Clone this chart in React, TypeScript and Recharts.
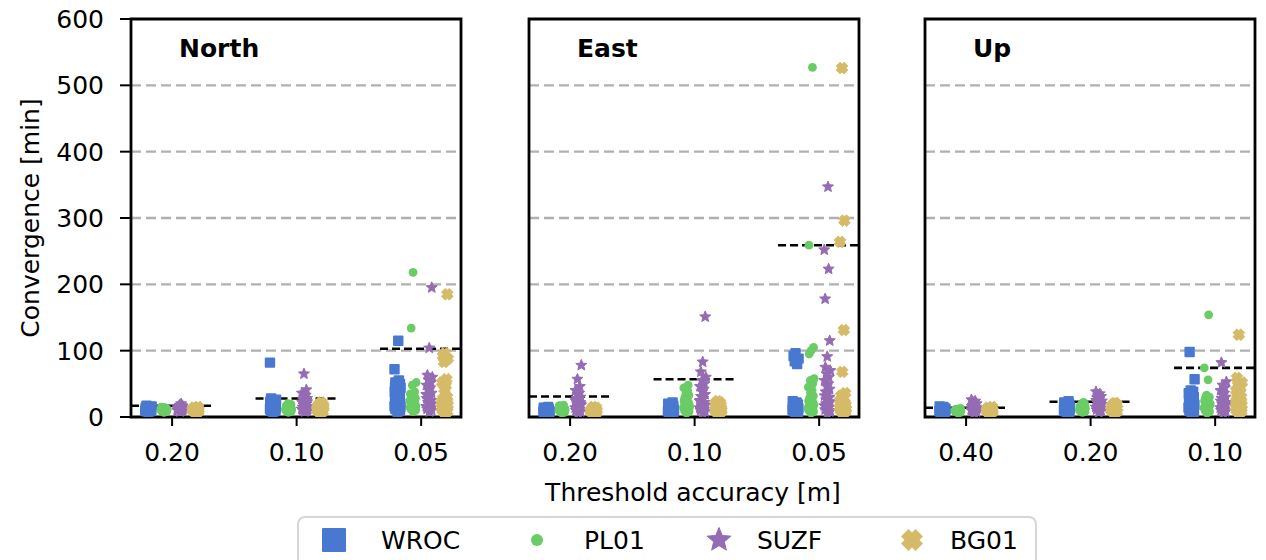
import React from "react";
import { ScatterChart, Scatter, XAxis, YAxis, CartesianGrid, ReferenceLine, ReferenceArea } from "recharts";

const STATIONS = ["WROC", "PL01", "SUZF", "BG01"];
const COLORS = ["#4878d0", "#6acc64", "#956cb4", "#d5bb67"];
const NE_TICKS = ["0.20", "0.10", "0.05"];
const UP_TICKS = ["0.40", "0.20", "0.10"];
const Y_TICKS = [0, 100, 200, 300, 400, 500, 600];
const GRID_VALUES = [100, 200, 300, 400, 500];

// convergence time [min] per station, one list per threshold
const NORTH_WROC = [
  [8, 9, 9, 10, 10, 11, 11, 11, 12, 12, 12, 13, 13, 13, 14, 14, 15, 15, 16, 17, 10, 12, 13, 11, 9],
  [8, 9, 10, 11, 12, 13, 14, 15, 16, 17, 18, 19, 20, 21, 22, 23, 24, 25, 26, 28, 12, 15, 18, 20, 82],
  [8, 10, 12, 14, 16, 18, 20, 22, 24, 26, 28, 30, 32, 34, 36, 38, 40, 42, 44, 46, 48, 50, 52, 55, 72, 115, 15, 25, 35, 45],
];
const NORTH_PL01 = [
  [7, 8, 9, 9, 10, 10, 11, 11, 12, 12, 12, 13, 13, 14, 14, 15, 9, 10, 11, 12],
  [7, 8, 9, 10, 11, 12, 13, 14, 15, 16, 17, 18, 19, 20, 10, 12, 14, 16, 11, 13],
  [8, 10, 12, 13, 14, 15, 16, 18, 20, 22, 24, 26, 28, 30, 32, 35, 38, 48, 52, 134, 218, 12, 17, 21, 25],
];
const NORTH_SUZF = [
  [8, 9, 10, 10, 11, 12, 12, 13, 13, 14, 15, 16, 17, 18, 20, 10, 11, 12, 14],
  [8, 9, 10, 11, 12, 14, 16, 18, 20, 22, 24, 26, 28, 30, 33, 36, 41, 65, 12, 15, 19, 23],
  [8, 10, 12, 14, 16, 18, 20, 22, 25, 28, 30, 33, 36, 40, 44, 48, 52, 56, 60, 63, 104, 195, 15, 24, 34],
];
const NORTH_BG01 = [
  [7, 8, 9, 10, 10, 11, 11, 12, 12, 13, 13, 14, 15, 9, 10, 11],
  [7, 8, 9, 10, 11, 12, 13, 14, 15, 16, 17, 18, 19, 20, 22, 10, 12, 14, 16],
  [6, 8, 10, 12, 14, 16, 18, 20, 22, 24, 26, 28, 30, 42, 47, 52, 57, 83, 88, 92, 96, 185, 12, 16, 20],
];

const EAST_WROC = [
  [4, 5, 6, 7, 8, 8, 9, 9, 10, 10, 11, 11, 12, 12, 13, 14, 15, 6, 8, 10],
  [5, 6, 7, 8, 9, 10, 11, 12, 13, 14, 15, 16, 17, 18, 19, 20, 22, 8, 10, 12, 14],
  [5, 7, 9, 10, 11, 12, 13, 14, 15, 16, 17, 18, 19, 20, 22, 24, 80, 84, 88, 92, 96, 8, 12, 16],
];
const EAST_PL01 = [
  [6, 7, 8, 9, 10, 10, 11, 11, 12, 12, 13, 13, 14, 15, 16, 17, 18, 9, 11, 13],
  [6, 8, 10, 12, 14, 16, 18, 20, 22, 25, 28, 30, 33, 36, 40, 44, 48, 10, 15, 20, 25],
  [6, 8, 10, 12, 14, 16, 18, 20, 22, 24, 26, 28, 32, 36, 40, 45, 50, 55, 58, 95, 100, 105, 259, 527, 12, 18],
];
const EAST_SUZF = [
  [6, 8, 10, 12, 14, 16, 18, 20, 22, 24, 26, 28, 30, 33, 36, 40, 46, 57, 78, 10, 15, 20, 25],
  [6, 8, 10, 12, 14, 16, 18, 20, 22, 25, 28, 31, 34, 38, 42, 46, 50, 55, 60, 68, 83, 151, 12, 18, 24],
  [5, 8, 11, 14, 17, 20, 23, 26, 29, 32, 35, 38, 42, 46, 50, 55, 60, 65, 70, 75, 91, 115, 178, 223, 252, 347, 10, 20, 30],
];
const EAST_BG01 = [
  [5, 6, 7, 8, 9, 9, 10, 10, 11, 11, 12, 13, 14, 15, 8, 10, 12],
  [6, 7, 8, 9, 10, 11, 12, 13, 14, 15, 16, 17, 18, 19, 20, 21, 22, 24, 10, 14, 18],
  [6, 8, 10, 12, 14, 16, 18, 20, 22, 25, 28, 32, 36, 68, 131, 264, 296, 526, 12, 16, 20],
];

const UP_WROC = [
  [6, 7, 8, 8, 9, 9, 10, 10, 11, 11, 12, 12, 13, 14, 15, 16, 8, 10, 12],
  [7, 8, 9, 10, 11, 12, 13, 14, 15, 16, 17, 18, 19, 20, 21, 22, 24, 10, 14, 18],
  [6, 8, 10, 12, 14, 16, 18, 20, 22, 24, 26, 28, 30, 32, 34, 36, 38, 40, 57, 98, 12, 20, 28],
];
const UP_PL01 = [
  [6, 7, 8, 8, 9, 9, 10, 10, 11, 11, 12, 12, 13, 9, 10, 11],
  [7, 8, 9, 10, 11, 12, 13, 14, 15, 16, 17, 18, 19, 20, 22, 10, 13, 16],
  [6, 8, 10, 12, 14, 16, 18, 20, 22, 24, 26, 28, 30, 33, 56, 74, 154, 12, 20, 27],
];
const UP_SUZF = [
  [6, 8, 9, 10, 11, 12, 13, 14, 15, 16, 17, 18, 20, 22, 24, 26, 10, 14],
  [7, 9, 11, 13, 15, 17, 19, 21, 23, 25, 27, 29, 31, 33, 35, 38, 12, 18, 24],
  [6, 8, 10, 12, 14, 16, 18, 20, 22, 24, 26, 28, 30, 33, 36, 40, 44, 48, 53, 82, 12, 20],
];
const UP_BG01 = [
  [6, 7, 8, 9, 9, 10, 10, 11, 11, 12, 13, 14, 15, 8, 12],
  [7, 8, 9, 10, 11, 12, 13, 14, 15, 16, 17, 18, 19, 20, 21, 10, 14, 17],
  [6, 8, 10, 12, 14, 16, 18, 20, 22, 24, 26, 28, 30, 33, 36, 40, 44, 48, 52, 59, 124, 12, 20],
];

// dashed black level per threshold
const NORTH_MEAN = [17, 28, 103];
const EAST_MEAN = [31, 57, 259];
const UP_MEAN = [14, 23, 74];

// strip layout: per-station dodge and a fixed jitter pattern
const DODGE = [-0.19, -0.065, 0.065, 0.19];
const JITTER = [0, 0.02, -0.017, 0.011, -0.024, 0.006, 0.023, -0.009, 0.015, -0.02, 0.003, -0.013, 0.019, -0.004, 0.008, -0.022, 0.013, -0.006, 0.025, -0.015];
const X_DOMAIN: [number, number] = [-0.33, 2.32];
const FONT = "'DejaVu Sans', sans-serif";
const FS = 25;

const toPoints = (lists: number[][], s: number) =>
  lists.flatMap((vals, i) => vals.map((v, k) => ({ x: i + DODGE[s] + JITTER[k % JITTER.length], y: v })));

const starPath = (cx: number, cy: number, R: number) => {
  const r = R * 0.45;
  let d = "";
  for (let i = 0; i < 10; i++) {
    const a = -Math.PI / 2 + (i * Math.PI) / 5;
    const rr = i % 2 === 0 ? R : r;
    d += (i === 0 ? "M" : "L") + (cx + rr * Math.cos(a)).toFixed(2) + "," + (cy + rr * Math.sin(a)).toFixed(2);
  }
  return d + "Z";
};

const xPath = (cx: number, cy: number, a: number) => {
  const w = a * 0.5;
  const pts = [[-w, -a], [w, -a], [w, -w], [a, -w], [a, w], [w, w], [w, a], [-w, a], [-w, w], [-a, w], [-a, -w], [-w, -w]];
  const c = Math.SQRT1_2;
  return pts.map(([px, py], i) => (i === 0 ? "M" : "L") + (cx + (px - py) * c).toFixed(2) + "," + (cy + (px + py) * c).toFixed(2)).join("") + "Z";
};

const Marker = ({ s, cx, cy, big }: { s: number; cx: number; cy: number; big?: boolean }) => {
  const fill = COLORS[s];
  if (s === 0) {
    const h = big ? 12 : 5.2;
    return <rect x={cx - h} y={cy - h} width={2 * h} height={2 * h} rx={1} fill={fill} />;
  }
  if (s === 1) return <circle cx={cx} cy={cy} r={big ? 6 : 4.4} fill={fill} />;
  if (s === 2) return <path d={starPath(cx, cy, big ? 12.5 : 5.8)} fill={fill} strokeLinejoin="round" stroke={fill} strokeWidth={1} />;
  return <path d={xPath(cx, cy, big ? 10 : 5.6)} fill={fill} strokeLinejoin="round" stroke={fill} strokeWidth={0.8} />;
};

type PanelProps = {
  title: string;
  plotLeft: number;
  showY: boolean;
  ticks: string[];
  series: number[][][];
  means: number[];
};

const Panel = ({ title, plotLeft, showY, ticks, series, means }: PanelProps) => {
  const yw = showY ? 131 : 0;
  const ml = showY ? 0 : 6;
  const plotW = 330;
  return (
    <>
      <div style={{ position: "absolute", left: plotLeft - yw - ml, top: 0 }}>
        <ScatterChart width={yw + ml + plotW + 6} height={560} margin={{ top: 19, right: 6, bottom: 83, left: ml }}>
          <CartesianGrid vertical={false} horizontalValues={GRID_VALUES} stroke="#b0b0b0" strokeWidth={2.3} strokeDasharray="10 5" />
          <XAxis
            type="number"
            dataKey="x"
            domain={X_DOMAIN}
            allowDataOverflow
            ticks={[0, 1, 2]}
            interval={0}
            tickFormatter={(v: number) => ticks[v]}
            height={60}
            tickSize={9}
            tickMargin={17}
            axisLine={false}
            tickLine={{ stroke: "#000", strokeWidth: 2 }}
            tick={{ fill: "#000", fontSize: FS, fontFamily: FONT }}
          />
          <YAxis
            type="number"
            dataKey="y"
            domain={[0, 600]}
            allowDataOverflow
            ticks={Y_TICKS}
            interval={0}
            hide={!showY}
            width={yw}
            tickSize={11}
            tickMargin={16}
            axisLine={false}
            tickLine={{ stroke: "#000", strokeWidth: 2 }}
            tick={{ fill: "#000", fontSize: FS, fontFamily: FONT }}
          />
          {series.map((lists, s) => (
            <Scatter
              key={STATIONS[s]}
              name={STATIONS[s]}
              data={toPoints(lists, s)}
              fill={COLORS[s]}
              isAnimationActive={false}
              shape={(p: any) => <Marker s={s} cx={p.cx} cy={p.cy} />}
            />
          ))}
          {means.map((m, i) => (
            <ReferenceLine
              key={i}
              segment={[{ x: i - 0.33, y: m }, { x: i + 0.33, y: m }]}
              stroke="#000"
              strokeWidth={2.6}
              strokeDasharray="8 4"
              ifOverflow="hidden"
            />
          ))}
          <ReferenceArea x1={X_DOMAIN[0]} x2={X_DOMAIN[1]} y1={0} y2={600} fill="none" fillOpacity={0} stroke="#000" strokeWidth={2.8} ifOverflow="visible" />
        </ScatterChart>
      </div>
      <div style={{ position: "absolute", left: plotLeft + 48, top: 36, fontFamily: FONT, fontWeight: "bold", fontSize: FS, lineHeight: "25px", color: "#000" }}>
        {title}
      </div>
    </>
  );
};

const LEGEND_X = [334, 537, 719, 912];
const LEGEND_TEXT_X = [381, 584, 757, 950];

export default function App() {
  return (
    <div style={{ position: "absolute", left: 0, top: 0, width: 1266, height: 560, background: "#fff", overflow: "hidden", fontFamily: FONT }}>
      <Panel title="North" plotLeft={131} showY ticks={NE_TICKS} series={[NORTH_WROC, NORTH_PL01, NORTH_SUZF, NORTH_BG01]} means={NORTH_MEAN} />
      <Panel title="East" plotLeft={529} showY={false} ticks={NE_TICKS} series={[EAST_WROC, EAST_PL01, EAST_SUZF, EAST_BG01]} means={EAST_MEAN} />
      <Panel title="Up" plotLeft={925} showY={false} ticks={UP_TICKS} series={[UP_WROC, UP_PL01, UP_SUZF, UP_BG01]} means={UP_MEAN} />
      <svg width={60} height={560} style={{ position: "absolute", left: 0, top: 0 }}>
        <text x={30} y={218} transform="rotate(-90 30 218)" textAnchor="middle" dominantBaseline="central" fontSize={FS} fontFamily={FONT} fill="#000">
          Convergence [min]
        </text>
      </svg>
      <div style={{ position: "absolute", left: 0, width: 1266, top: 478, fontSize: FS, lineHeight: "30px", color: "#000" }}>
        <span style={{ position: "absolute", left: 693, transform: "translateX(-50%)", whiteSpace: "nowrap" }}>Threshold accuracy [m]</span>
      </div>
      <div style={{ position: "absolute", left: 297, top: 516, width: 740, height: 70, border: "2px solid #d6d6d6", borderRadius: 8, boxSizing: "border-box", background: "#fff" }} />
      <svg width={1266} height={560} style={{ position: "absolute", left: 0, top: 0, pointerEvents: "none" }}>
        {STATIONS.map((name, s) => (
          <g key={name}>
            <Marker s={s} cx={LEGEND_X[s]} cy={540} big />
            <text x={LEGEND_TEXT_X[s]} y={540} dominantBaseline="central" fontSize={FS} fontFamily={FONT} fill="#000">
              {name}
            </text>
          </g>
        ))}
      </svg>
    </div>
  );
}
